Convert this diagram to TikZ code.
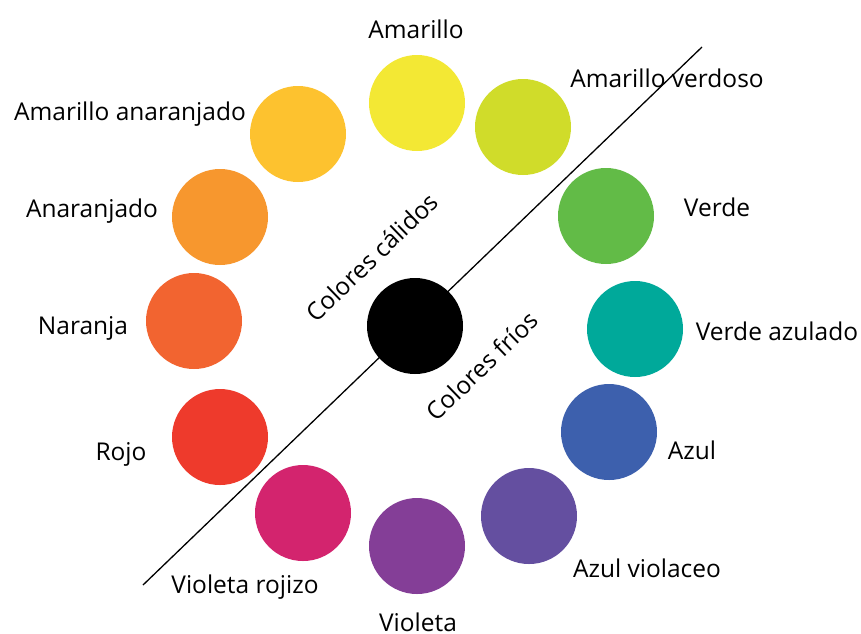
\documentclass[tikz,border=0pt]{standalone}
\usepackage{fontspec}
\setmainfont{Open Sans}
\definecolor{cAm}{HTML}{F3E834}
\definecolor{cAmV}{HTML}{D0DC2A}
\definecolor{cVe}{HTML}{62BB47}
\definecolor{cVeA}{HTML}{00A99A}
\definecolor{cAz}{HTML}{3D60AD}
\definecolor{cAzV}{HTML}{644FA0}
\definecolor{cVi}{HTML}{843E97}
\definecolor{cViR}{HTML}{D3246E}
\definecolor{cRo}{HTML}{EE3A2C}
\definecolor{cNa}{HTML}{F26430}
\definecolor{cAn}{HTML}{F7972E}
\definecolor{cAmA}{HTML}{FDC22F}
\begin{document}
\begin{tikzpicture}[x=1pt,y=-1pt,
  dot/.style={circle,minimum size=96pt,inner sep=0pt,fill=#1},
  lbl/.style={font=\fontsize{24.5}{28}\selectfont,inner sep=0pt,anchor=base}]
\useasboundingbox (0,0) rectangle (861,633);
\coordinate (l1) at (143,585);
\coordinate (l2) at (702,47);
\draw[line width=1.3pt] (l1) -- (l2);
\node[dot=cAm]  (am)  at (417,103) {};
\node[dot=cAmV] (amv) at (523,127) {};
\node[dot=cVe]  (ve)  at (606,216) {};
\node[dot=cVeA] (vea) at (635,329) {};
\node[dot=cAz]  (az)  at (609,432) {};
\node[dot=cAzV] (azv) at (529,516) {};
\node[dot=cVi]  (vi)  at (417,546) {};
\node[dot=cViR] (vir) at (303,513) {};
\node[dot=cRo]  (ro)  at (220,437) {};
\node[dot=cNa]  (na)  at (194,321) {};
\node[dot=cAn]  (an)  at (220,217) {};
\node[dot=cAmA] (ama) at (298,134) {};
\node[dot=black] (bk) at (415,326) {};
\node[lbl] (tam)  at (416,38)  {Amarillo};
\node[lbl] (tamv) at (667,87)  {Amarillo verdoso};
\node[lbl] (tve)  at (717,216) {Verde};
\node[lbl] (tvea) at (777,340) {Verde azulado};
\node[lbl] (taz)  at (692,459) {Azul};
\node[lbl] (tazv) at (647,577) {Azul violaceo};
\node[lbl] (tvi)  at (418,631) {Violeta};
\node[lbl] (tvir) at (245,593) {Violeta rojizo};
\node[lbl] (tro)  at (121,460) {Rojo};
\node[lbl] (tna)  at (83,334)  {Naranja};
\node[lbl] (tan)  at (92,217)  {Anaranjado};
\node[lbl] (tama) at (130,120) {Amarillo anaranjado};
\node[lbl,anchor=center,rotate=44] (tcal) at (372,257) {Colores cálidos};
\node[lbl,anchor=center,rotate=44] (tfri) at (482,366) {Colores fríos};
\end{tikzpicture}
\end{document}
